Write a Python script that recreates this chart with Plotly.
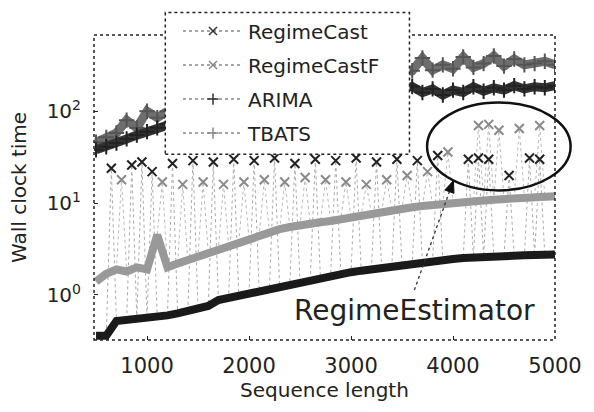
import plotly.graph_objects as go

# ---------------- data ----------------
seq_len = [500, 600, 700, 800, 900, 1000, 1100, 1200, 1300, 1400, 1500, 1600, 1700, 1800,
           1900, 2000, 2100, 2200, 2300, 2400, 2500, 2600, 2700, 2800, 2900, 3000, 3100,
           3200, 3300, 3400, 3500, 3600, 3700, 3800, 3900, 4000, 4100, 4200, 4300, 4400,
           4500, 4600, 4700, 4800, 4900, 5000]

regimecast_base = [0.36, 0.36, 0.52, 0.53, 0.55, 0.56, 0.58, 0.6, 0.63, 0.67, 0.71, 0.76,
                   0.88, 0.93, 0.98, 1.02, 1.1, 1.17, 1.25, 1.32, 1.4, 1.47, 1.55, 1.63,
                   1.7, 1.77, 1.84, 1.91, 1.98, 2.05, 2.12, 2.2, 2.27, 2.34, 2.4, 2.46, 2.52,
                   2.57, 2.6, 2.63, 2.66, 2.68, 2.7, 2.72, 2.74, 2.76]

regimecastf_base = [1.4, 1.7, 1.9, 1.8, 2.0, 1.9, 4.5, 2.0, 2.2, 2.4, 2.7, 2.9, 3.2, 3.5,
                    3.8, 4.1, 4.5, 4.9, 5.2, 5.5, 5.8, 6.0, 6.2, 6.4, 6.7, 7.0, 7.4, 7.8,
                    8.1, 8.4, 8.7, 9.0, 9.3, 9.6, 9.8, 10.0, 10.3, 10.5, 10.7, 10.9, 11.1,
                    11.3, 11.5, 11.6, 11.8, 11.9]

arima = [38, 41, 45, 50, 55, 60, 66, 72, 78, 84, 90, 95, 100, 105, 110, 115, 120, 125,
         130, 135, 140, 145, 150, 155, 158, 162, 166, 170, 174, 178, 182, 186, 160, 175,
         150, 170, 160, 185, 165, 180, 170, 190, 175, 185, 180, 190]

tbats = [46, 52, 58, 80, 66, 100, 85, 100, 95, 105, 110, 118, 125, 132, 140, 148, 156, 164,
         172, 180, 188, 196, 204, 212, 220, 228, 236, 244, 252, 260, 268, 276, 380, 280,
         320, 290, 390, 300, 330, 400, 310, 370, 320, 330, 350, 320]

regimecast_spike_x = [650, 850, 950, 1050, 1250, 1450, 1650, 1850, 2050, 2250, 2450, 2650,
                      2850, 3050, 3250, 3450, 3650, 3850, 4150, 4250, 4350, 4550, 4750, 4850]
regimecast_spike_y = [24, 26, 28, 22, 27, 29, 28, 30, 29, 31, 27, 30, 29, 31, 28, 30, 29, 33,
                      30, 31, 30, 20, 31, 30]

regimecastf_spike_x = [750, 1150, 1350, 1550, 1750, 1950, 2150, 2350, 2550, 2750, 2950,
                       3150, 3350, 3550, 3750, 3950, 4250, 4350, 4450, 4650, 4850]
regimecastf_spike_y = [18, 17, 16, 17, 16, 17, 18, 17, 19, 18, 17, 16, 18, 20, 22, 36, 70,
                       72, 62, 65, 70]

x_ticks = [1000, 2000, 3000, 4000, 5000]
y_ticks = [1, 10, 100]
y_tick_text = ["10<sup>0</sup>", "10<sup>1</sup>", "10<sup>2</sup>"]
legend_names = ["RegimeCast", "RegimeCastF", "ARIMA", "TBATS"]

FONT = "DejaVu Sans"

# plot-area pixel geometry
W, H = 594, 412
ML, MR, MT, MB = 94, 28, 28, 72
PW, PH = W - ML - MR, H - MT - MB


def px(x):
    return (x - ML) / PW


def py(y):
    return (H - MB - y) / PH


def merged(bx, by, sx, sy):
    pts = sorted(list(zip(bx, by)) + list(zip(sx, sy)))
    return [p[0] for p in pts], [p[1] for p in pts]


fig = go.Figure()

# dotted connectors (light)
for bx, by, sx, sy, col in [
    (seq_len, regimecastf_base, regimecastf_spike_x, regimecastf_spike_y, "#b8b8b8"),
    (seq_len, regimecast_base, regimecast_spike_x, regimecast_spike_y, "#aaaaaa"),
]:
    mx, my = merged(bx, by, sx, sy)
    fig.add_trace(go.Scatter(x=mx, y=my, mode="lines", showlegend=False,
                             line=dict(color=col, width=1, dash="dot"), hoverinfo="skip"))

# top bands
fig.add_trace(go.Scatter(x=seq_len, y=tbats, mode="lines+markers", showlegend=False,
                         line=dict(color="#6e6e6e", width=9),
                         marker=dict(symbol="cross-thin", size=11, line=dict(width=2, color="#555555"))))
fig.add_trace(go.Scatter(x=seq_len, y=arima, mode="lines+markers", showlegend=False,
                         line=dict(color="#333333", width=9),
                         marker=dict(symbol="cross-thin", size=11, line=dict(width=2, color="#222222"))))

# middle band (RegimeCastF)
fig.add_trace(go.Scatter(x=seq_len, y=regimecastf_base, mode="lines", showlegend=False,
                         line=dict(color="#999999", width=8)))
# bottom band (RegimeCast)
fig.add_trace(go.Scatter(x=seq_len, y=regimecast_base, mode="lines", showlegend=False,
                         line=dict(color="#1a1a1a", width=8)))

# spikes
fig.add_trace(go.Scatter(x=regimecastf_spike_x, y=regimecastf_spike_y, mode="markers",
                         showlegend=False,
                         marker=dict(symbol="x-thin", size=9, line=dict(width=2, color="#8a8a8a"))))
fig.add_trace(go.Scatter(x=regimecast_spike_x, y=regimecast_spike_y, mode="markers",
                         showlegend=False,
                         marker=dict(symbol="x-thin", size=9, line=dict(width=2, color="#222222"))))

# legend entries
leg_style = [("x-thin", "#333333"), ("x-thin", "#888888"), ("cross-thin", "#333333"), ("cross-thin", "#888888")]
for i, (name, (sym, col)) in enumerate(zip(legend_names, leg_style)):
    fig.add_trace(go.Scatter(x=[None], y=[None], mode="lines+markers", name=name,
                             legendgroup=f"g{i}",
                             line=dict(color="#888888", width=1.5, dash="dot"),
                             marker=dict(symbol=sym, size=8, line=dict(width=1.5, color=col))))

# arrowhead triangle (tip at 462,177 px, pointing along the dotted shaft)
tri = [(462, 177), (462.6, 190.0), (453.2, 186.6)]
tri_path = "M " + " L ".join(f"{px(a):.5f},{py(b):.5f}" for a, b in tri) + " Z"

shapes = [
    # plot frame
    dict(type="rect", xref="paper", yref="paper", x0=0, x1=1, y0=0, y1=1,
         line=dict(color="#222222", width=1.5, dash="dot"), layer="above"),
    # legend box
    dict(type="rect", xref="paper", yref="paper", x0=px(167), x1=px(417), y0=py(150), y1=py(5),
         line=dict(color="#222222", width=1.5, dash="dot"), fillcolor="white", layer="above"),
    # ellipse
    dict(type="circle", xref="paper", yref="paper", x0=px(435), x1=px(582), y0=py(187), y1=py(97),
         line=dict(color="#111111", width=2.5), layer="above"),
    # dotted arrow shaft
    dict(type="line", xref="paper", yref="paper", x0=px(422), y0=py(289), x1=px(458), y1=py(188),
         line=dict(color="#333333", width=1.3, dash="dot"), layer="above"),
    dict(type="path", xref="paper", yref="paper", path=tri_path,
         fillcolor="#111111", line=dict(color="#111111", width=1), layer="above"),
]

annotations = [
    dict(text="RegimeEstimator", xref="paper", yref="paper", x=px(422), y=py(310),
         xanchor="center", yanchor="middle", showarrow=False,
         font=dict(family=FONT, size=28, color="#222222")),
]

fig.update_layout(
    width=W, height=H,
    margin=dict(l=ML, r=MR, t=MT, b=MB),
    paper_bgcolor="white", plot_bgcolor="white",
    font=dict(family=FONT, size=20, color="#222222"),
    shapes=shapes, annotations=annotations,
    legend=dict(x=px(180), y=py(4), xanchor="left", yanchor="top",
                bgcolor="rgba(0,0,0,0)", borderwidth=0, itemwidth=60,
                traceorder="grouped", tracegroupgap=5,
                font=dict(family=FONT, size=20, color="#222222")),
    xaxis=dict(range=[480, 5000], tickvals=x_ticks, ticks="inside", ticklen=4,
               tickcolor="#222222", showgrid=False, zeroline=False, showline=False,
               ticklabelstandoff=11, tickfont=dict(family=FONT, size=21),
               title=dict(text="Sequence length", standoff=4,
                          font=dict(family=FONT, size=20, color="#222222"))),
    yaxis=dict(type="log", range=[-0.49, 2.83], tickvals=y_ticks, ticktext=y_tick_text,
               ticks="inside", ticklen=4, tickcolor="#222222", showgrid=False,
               zeroline=False, showline=False, ticklabelstandoff=12,
               tickfont=dict(family=FONT, size=20),
               title=dict(text="Wall clock time", standoff=14,
                          font=dict(family=FONT, size=20, color="#222222"))),
)

fig.write_html("out.html")
